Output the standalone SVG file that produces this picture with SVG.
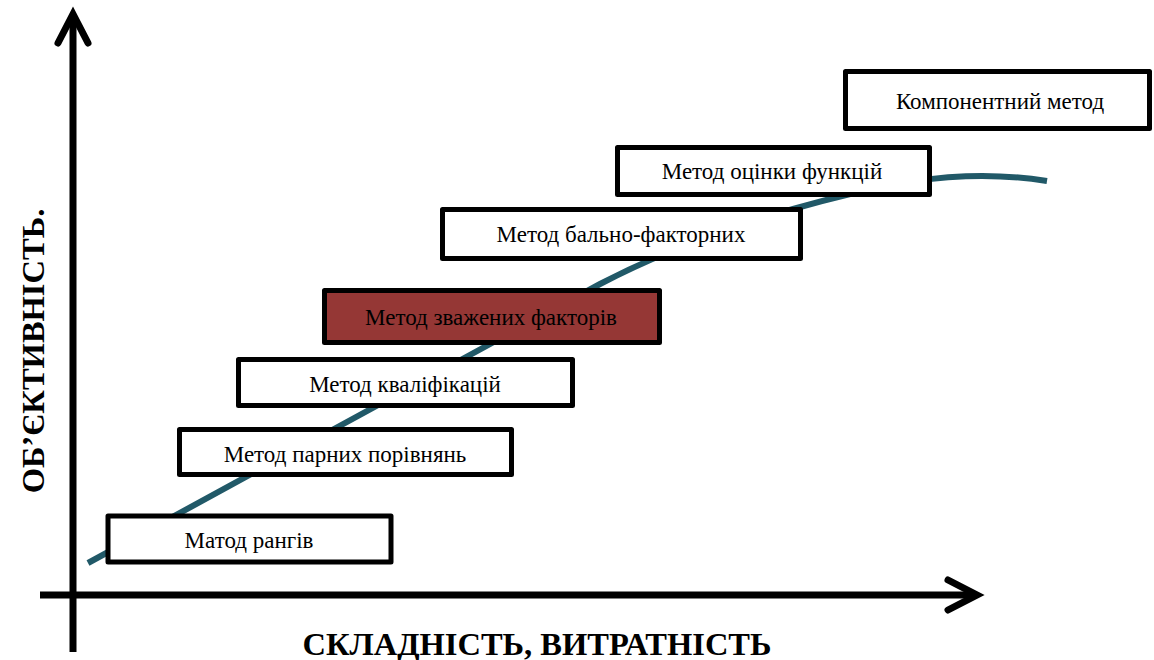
<svg xmlns="http://www.w3.org/2000/svg" width="1154" height="660" viewBox="0 0 1154 660">
<style>
.box{fill:#ffffff;stroke:#000000;stroke-width:5;stroke-linejoin:round}
.hl{fill:#953735}
.lbl{font-family:"Liberation Serif","Times New Roman",serif;font-size:23px;fill:#000000;text-anchor:middle}
.axis{stroke:#000000;stroke-width:7;fill:none}
.head{stroke:#000000;stroke-width:7;fill:none;stroke-linecap:round;stroke-linejoin:miter}
.title{font-family:"Liberation Serif","Times New Roman",serif;font-size:32.5px;font-weight:bold;fill:#000000;text-anchor:middle}
</style>
<rect width="1154" height="660" fill="#ffffff"/>
<g id="connectors">
<path id="trend" d="M88,563 L600,284 C700,232 810,202 890,185 C940,176 990,172 1047,181" fill="none" stroke="#215968" stroke-width="6"/>
</g>
<g id="axes">
<line class="axis" x1="73" y1="652" x2="73" y2="16"/>
<polyline class="head" points="58,43 73,14 88,43"/>
<line class="axis" x1="40" y1="595" x2="976" y2="595"/>
<polyline class="head" points="948,580 977,595 948,610"/>
</g>
<g id="node-ranks">
<rect class="box" x="108" y="516" width="283" height="46"/>
<text class="lbl" x="249" y="548">Матод рангів</text>
</g>
<g id="node-pairs">
<rect class="box" x="179.5" y="429.5" width="332" height="45"/>
<text class="lbl" x="345" y="462">Метод парних порівнянь</text>
</g>
<g id="node-qual">
<rect class="box" x="238.5" y="359.5" width="334" height="46"/>
<text class="lbl" x="405" y="392">Метод кваліфікацій</text>
</g>
<g id="node-weighted">
<rect class="box hl" x="324.5" y="290.5" width="335" height="52"/>
<text class="lbl" x="491" y="325">Метод зважених  факторів</text>
</g>
<g id="node-score">
<rect class="box" x="442.5" y="209.5" width="358" height="49"/>
<text class="lbl" x="621" y="242">Метод бально-факторних</text>
</g>
<g id="node-func">
<rect class="box" x="617.5" y="147.5" width="312" height="47"/>
<text class="lbl" x="772" y="179">Метод оцінки функцій</text>
</g>
<g id="node-comp">
<rect class="box" x="845.5" y="71.5" width="304" height="57"/>
<text class="lbl" x="1000" y="109">Компонентний метод</text>
</g>
<g id="axis-labels">
<text class="title" x="537" y="655">СКЛАДНІСТЬ, ВИТРАТНІСТЬ</text>
<text class="title" transform="translate(44,351) rotate(-90)" x="0" y="0">ОБ’ЄКТИВНІСТЬ.</text>
</g>
</svg>
